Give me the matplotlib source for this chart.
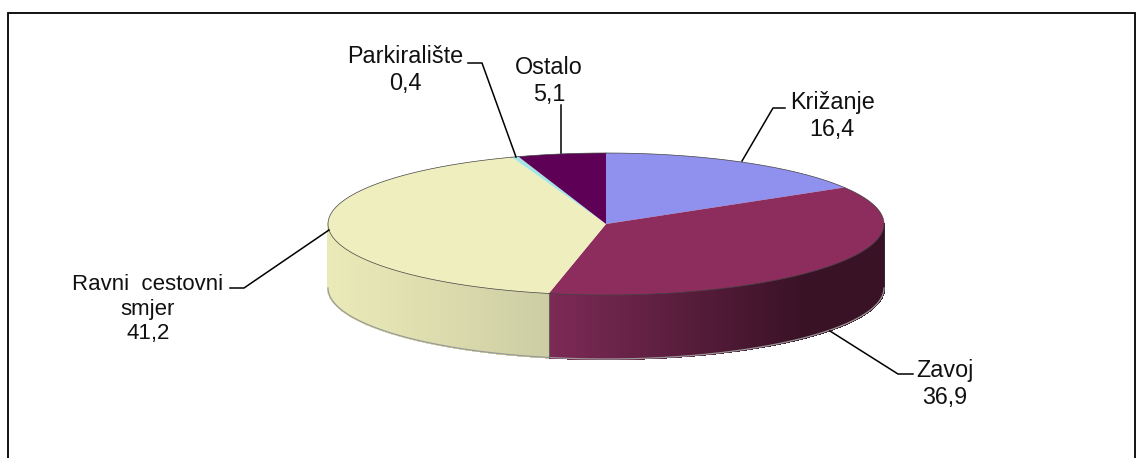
import numpy as np
import matplotlib
matplotlib.use("Agg")
import matplotlib.pyplot as plt

names = ["Križanje", "Zavoj", "Ravni  cestovni\nsmjer", "Parkiralište", "Ostalo"]
values = [16.4, 36.9, 41.2, 0.4, 5.1]

top_colors = ["#9090EE", "#8C2D5E", "#EEEEBE", "#A5E5E5", "#5E0055"]
side_left = ["#9090EE", "#7C2A56", "#EAEAB8", "#A5E5E5", "#5E0055"]
side_right = ["#9090EE", "#3A1226", "#CDCDA4", "#A5E5E5", "#5E0055"]

label_pos = [(832, 116), (945, 384), (148, 309), (405, 70), (549, 81)]
label_size = [16.8, 16.8, 16, 16.8, 16.8]
label_space = [1.19, 1.19, 1.25, 1.19, 1.19]
leaders = [
    [(785, 108), (773, 108), (742, 161)],
    [(913, 374), (898, 374), (830, 331)],
    [(230, 288), (244, 288), (329, 230)],
    [(468, 63), (482, 63), (516, 157)],
    [(561, 105), (561, 153)],
]

cx, cy, rx, ry, depth = 606, 224, 278, 71, 64

plt.rcParams["font.family"] = "Liberation Sans"
fig = plt.figure(figsize=(11.42, 4.58), dpi=100)
ax = fig.add_axes([0, 0, 1, 1])
ax.set_xlim(0, 1142)
ax.set_ylim(458, 0)
ax.axis("off")


def rim(t):
    # t in degrees, clockwise from the top of the ellipse
    r = np.radians(t)
    return cx + rx * np.sin(r), cy - ry * np.cos(r)


def mix(a, b, f):
    a = np.array(matplotlib.colors.to_rgb(a))
    b = np.array(matplotlib.colors.to_rgb(b))
    return a + (b - a) * f


# frame, open at the bottom
ax.plot([7.5, 7.5, 1134.5, 1134.5], [458, 12.5, 12.5, 458], color="black", lw=1.3,
        solid_joinstyle="miter")

stops = np.cumsum([0] + values) * 3.6

# side wall
for i in range(len(values)):
    a = max(stops[i], 90)
    b = min(stops[i + 1], 270)
    if b <= a:
        continue
    ts = np.linspace(a, b, int((b - a) * 3) + 2)
    x0, x1 = rim(ts)[0].min(), rim(ts)[0].max()
    x1 = min(x1, x0 + 250)
    for t0, t1 in zip(ts[:-1], ts[1:]):
        xa, ya = rim(t0)
        xb, yb = rim(t1)
        f = min(max((min(xa, xb) - x0) / (x1 - x0), 0), 1)
        c = mix(side_left[i], side_right[i], f)
        ax.fill([xa, xb, xb, xa], [ya, yb, yb + depth, ya + depth], color=c, lw=1.0,
                antialiased=False, zorder=2)
    xa, ya = rim(a)
    ax.plot([xa, xa], [ya, ya + depth], color="#333333", lw=0.5, zorder=3)
    bx, by = rim(ts)
    ax.plot(bx, by + depth, color="#999999", lw=0.9, zorder=3)

# top face
for i in range(len(values)):
    ts = np.linspace(stops[i], stops[i + 1], 200)
    x, y = rim(ts)
    ax.fill(np.r_[cx, x], np.r_[cy, y], facecolor=top_colors[i], edgecolor="none", zorder=4)
    ax.plot(x, y, color="#444444", lw=0.5, zorder=5)

# labels and leader lines
for i in range(len(values)):
    lx = [p[0] for p in leaders[i]]
    ly = [p[1] for p in leaders[i]]
    ax.plot(lx, ly, color="black", lw=1.1, zorder=6)
    txt = names[i] + "\n" + str(values[i]).replace(".", ",")
    ax.text(label_pos[i][0], label_pos[i][1], txt, ha="center", va="center",
            fontsize=label_size[i], linespacing=label_space[i], color="#111111", zorder=7)

fig.savefig("out.png", dpi=100)
